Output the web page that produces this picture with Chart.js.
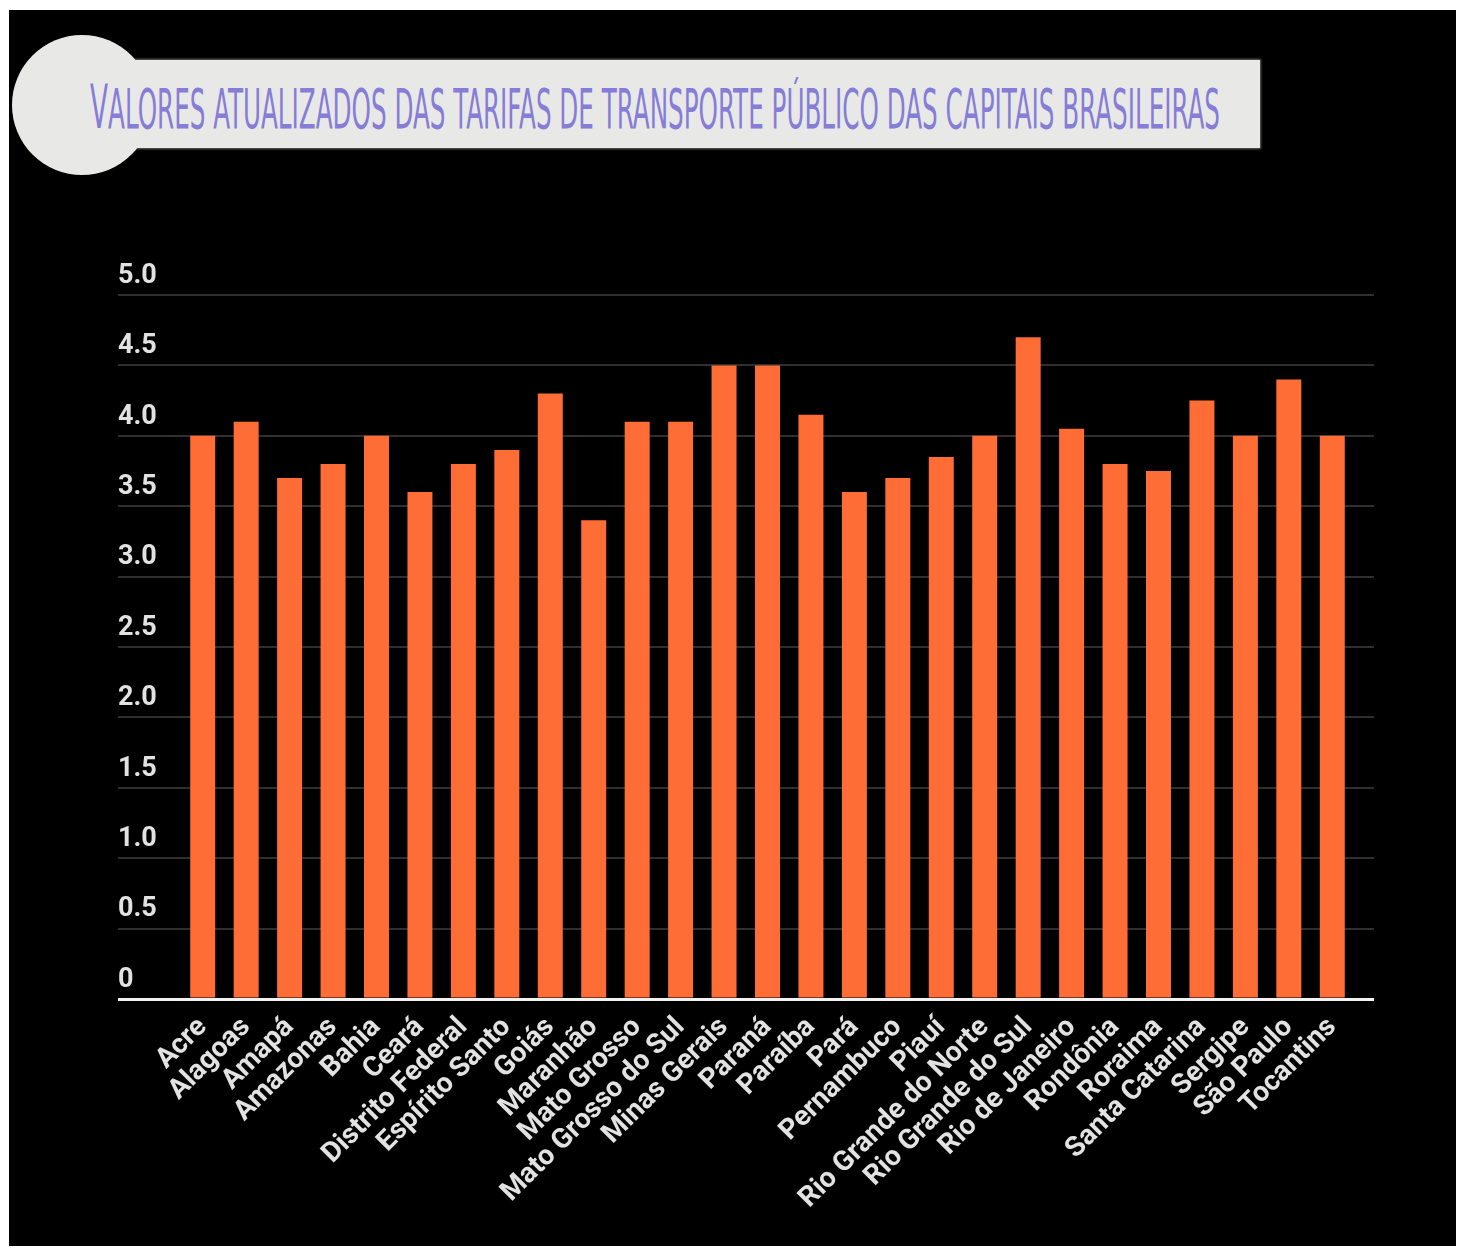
<!DOCTYPE html>
<html lang="pt-BR">
<head>
<meta charset="utf-8">
<title>Tarifas de transporte público</title>
<script src="https://cdn.jsdelivr.net/npm/chart.js@4.4.1/dist/chart.umd.min.js"></script>
<style>
    body { margin: 0; background: #fff; width: 1461px; height: 1253px; position: relative; overflow: hidden; }
    #fundo { position: absolute; left: 9px; top: 10px; width: 1447px; height: 1236px; background: #000; }
    #faixa { position: absolute; left: 100px; top: 60px; width: 1160px; height: 88px; background: #e8e8e6;
             box-shadow: 0 0 2px 1px #6a6a6a; }
    #bola { position: absolute; left: 12px; top: 35px; width: 140px; height: 140px; border-radius: 50%; background: #e8e8e6; }
    #titulo { position: absolute; left: 90px; top: 78px; white-space: nowrap; line-height: 1;
              font-family: "Liberation Sans Narrow", "DejaVu Sans Condensed", "Noto Sans", sans-serif;
              font-size: 56px; color: #857dd6; text-transform: uppercase; transform-origin: 0 0; }
    #titulo::first-letter { font-size: 1.07em; }
    #grafico { position: absolute; left: 100px; top: 250px; }
</style>
</head>
<body>
<div id="fundo"></div>
<div id="faixa"></div>
<div id="bola"></div>
<span id="titulo">Valores atualizados das tarifas de transporte público das capitais brasileiras</span>
<canvas id="grafico" width="1300" height="989"></canvas>
<script>
// Capitais (estados) e valores das tarifas, em R$
const estados = ["Acre", "Alagoas", "Amapá", "Amazonas", "Bahia", "Ceará", "Distrito Federal", "Espírito Santo",
    "Goiás", "Maranhão", "Mato Grosso", "Mato Grosso do Sul", "Minas Gerais", "Paraná", "Paraíba", "Pará",
    "Pernambuco", "Piauí", "Rio Grande do Norte", "Rio Grande do Sul", "Rio de Janeiro", "Rondônia", "Roraima",
    "Santa Catarina", "Sergipe", "São Paulo", "Tocantins"];
const tarifas = [4.0, 4.1, 3.7, 3.8, 4.0, 3.6, 3.8, 3.9, 4.3, 3.4, 4.1, 4.1, 4.5, 4.5, 4.15, 3.6,
    3.7, 3.85, 4.0, 4.7, 4.05, 3.8, 3.75, 4.25, 4.0, 4.4, 4.0];

// Eixo vertical
const eixoMin = 0;
const eixoMax = 5;
const passo = 0.5;

const corBarra = "#ff6d36";
const corGrade = "#2f2f2f";
const corTexto = "#e2e2e2";

document.addEventListener("DOMContentLoaded", () => {
    // ajusta a largura do título à faixa cinza
    const titulo = document.getElementById("titulo");
    const largura = titulo.getBoundingClientRect().width;
    titulo.style.transform = `scaleX(${1130 / largura})`;

    const corLinha = (ctx) => ctx.tick && ctx.tick.value === 0 ? "#f2f2f2" : corGrade;
    const larguraLinha = (ctx) => ctx.tick && ctx.tick.value === 0 ? 3 : 2;

    const ctx = document.getElementById("grafico").getContext("2d");
    new Chart(ctx, {
        type: "bar",
        data: {
            labels: estados,
            datasets: [{
                label: "Tarifa",
                data: tarifas,
                backgroundColor: corBarra,
                categoryPercentage: 1,
                barPercentage: 0.575,
                yAxisID: "y"
            }]
        },
        options: {
            responsive: false,
            animation: false,
            layout: { padding: { left: 18, right: 26, top: 45, bottom: 0 } },
            plugins: {
                legend: { display: false },
                tooltip: { enabled: false }
            },
            scales: {
                x: {
                    grid: { display: false, drawTicks: false },
                    border: { display: false },
                    ticks: {
                        color: corTexto,
                        font: { family: "Roboto", size: 28, weight: "bold" },
                        minRotation: 45,
                        maxRotation: 45,
                        autoSkip: false,
                        padding: 12
                    },
                    afterFit: (eixo) => { eixo.height = 240; }
                },
                y: {
                    min: eixoMin,
                    max: eixoMax,
                    grid: { color: corLinha, lineWidth: larguraLinha, drawTicks: true, tickLength: 63 },
                    border: { display: false },
                    ticks: {
                        stepSize: passo,
                        color: corTexto,
                        font: { family: "Roboto", size: 27, weight: "bold" },
                        crossAlign: "far",
                        labelOffset: -19,
                        padding: 0,
                        callback: (v) => v === 0 ? "0" : v.toFixed(1)
                    },
                    afterFit: (eixo) => { eixo.width = 63; }
                },
                // só para prolongar a grade à direita
                y2: {
                    position: "right",
                    min: eixoMin,
                    max: eixoMax,
                    grid: { color: corLinha, lineWidth: larguraLinha, drawOnChartArea: false, drawTicks: true, tickLength: 20 },
                    border: { display: false },
                    ticks: { stepSize: passo, display: false },
                    afterFit: (eixo) => { eixo.width = 20; }
                }
            }
        }
    });
});
</script>
</body>
</html>
